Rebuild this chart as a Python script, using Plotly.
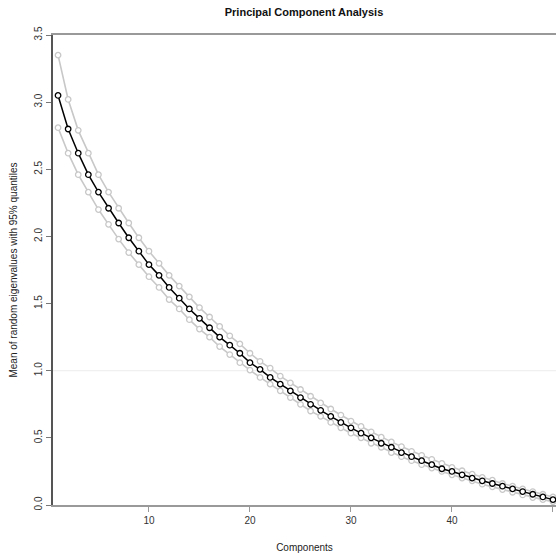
import plotly.graph_objects as go

components = list(range(1, 51))
mean_eig = [3.05, 2.80, 2.62, 2.46, 2.33, 2.21, 2.10, 1.99, 1.89, 1.79,
            1.71, 1.62, 1.54, 1.46, 1.39, 1.32, 1.25, 1.19, 1.13, 1.06,
            1.01, 0.95, 0.90, 0.85, 0.80, 0.75, 0.705, 0.66, 0.615, 0.575,
            0.535, 0.50, 0.46, 0.43, 0.39, 0.36, 0.33, 0.30, 0.27, 0.25,
            0.225, 0.20, 0.18, 0.16, 0.14, 0.12, 0.10, 0.08, 0.06, 0.04]
upper_q = [3.35, 3.02, 2.79, 2.62, 2.46, 2.33, 2.21, 2.10, 1.99, 1.89,
           1.80, 1.71, 1.63, 1.55, 1.47, 1.40, 1.33, 1.26, 1.20, 1.13,
           1.07, 1.02, 0.96, 0.91, 0.86, 0.81, 0.76, 0.715, 0.67, 0.625,
           0.585, 0.545, 0.505, 0.47, 0.435, 0.40, 0.37, 0.34, 0.31, 0.28,
           0.255, 0.23, 0.205, 0.185, 0.16, 0.14, 0.12, 0.10, 0.08, 0.06]
lower_q = [2.81, 2.62, 2.46, 2.33, 2.20, 2.09, 1.98, 1.88, 1.79, 1.70,
           1.62, 1.53, 1.46, 1.38, 1.31, 1.25, 1.18, 1.12, 1.06, 1.005,
           0.95, 0.90, 0.85, 0.80, 0.75, 0.70, 0.66, 0.615, 0.575, 0.535,
           0.50, 0.46, 0.43, 0.39, 0.36, 0.33, 0.30, 0.275, 0.25, 0.225,
           0.20, 0.18, 0.155, 0.135, 0.115, 0.095, 0.075, 0.055, 0.04, 0.025]
x_ticks = [10, 20, 30, 40, 50]
y_ticks = [0.0, 0.5, 1.0, 1.5, 2.0, 2.5, 3.0, 3.5]
y_tick_text = ["0.0", "0.5", "1.0", "1.5", "2.0", "2.5", "3.0", "3.5"]

grey = "#c8c8c8"
fig = go.Figure()
for series in (upper_q, lower_q):
    fig.add_trace(go.Scatter(
        x=components, y=series, mode="lines+markers",
        line=dict(color=grey, width=1.6),
        marker=dict(symbol="circle", size=5.5, color="white",
                    line=dict(color=grey, width=1.3)),
        showlegend=False, hoverinfo="skip"))
fig.add_trace(go.Scatter(
    x=components, y=mean_eig, mode="lines+markers",
    line=dict(color="black", width=1.5),
    marker=dict(symbol="circle", size=5.5, color="white",
                line=dict(color="black", width=1.3)),
    showlegend=False))

fig.add_shape(type="line", xref="paper", yref="y", x0=0, x1=1, y0=1.0, y1=1.0,
              line=dict(color="#ececec", width=1), layer="below")

font_family = "Liberation Sans, Arial, sans-serif"
fig.update_layout(
    width=556, height=558,
    margin=dict(l=53, r=0, t=35, b=53),
    paper_bgcolor="white", plot_bgcolor="white",
    font=dict(family=font_family, size=10, color="#222"),
    title=dict(text="<b>Principal Component Analysis</b>", x=304 / 556, xanchor="center",
               y=1 - 12 / 558, yanchor="middle", font=dict(size=11, color="#111")),
    xaxis=dict(range=[0.5, 50.3], tickvals=x_ticks, ticks="outside", ticklen=5,
               tickcolor="#999", showline=True, linecolor="#999", linewidth=1.5,
               mirror=True, showgrid=False, zeroline=False,
               tickfont=dict(size=10, color="#333"),
               title=dict(text="Components", font=dict(size=10, color="#222"), standoff=19)),
    yaxis=dict(range=[0, 3.5], tickvals=y_ticks, ticktext=y_tick_text, ticks="outside",
               ticklen=5, tickcolor="#777", showline=True, linecolor="#555", linewidth=1.5,
               showgrid=False, zeroline=False, tickangle=-90,
               tickfont=dict(size=10, color="#333"),
               title=dict(text="Mean of random eigenvalues with 95% quantiles",
                          font=dict(size=10, color="#222"), standoff=14)),
)
fig.write_html("out.html", config={"displayModeBar": False},
               post_script="document.body.style.margin='0px';")
